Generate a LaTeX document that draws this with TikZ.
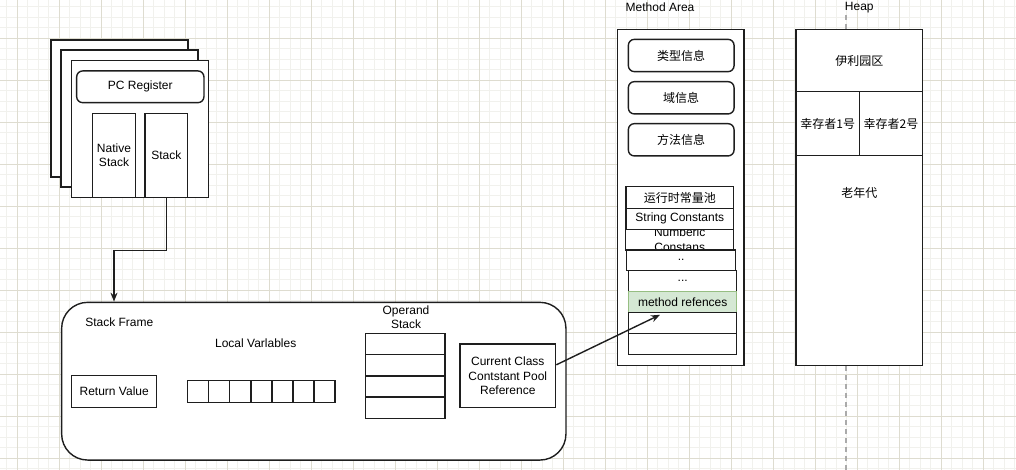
\documentclass[tikz,border=0pt]{standalone}
\usepackage{fontspec}
\setmainfont{Liberation Sans}
\newfontfamily\cjk{Noto Sans CJK SC}
\usetikzlibrary{arrows.meta}
\definecolor{minorgrid}{RGB}{241,241,237}
\definecolor{majorgrid}{RGB}{222,220,208}
\definecolor{ln}{RGB}{30,30,30}
\definecolor{gfill}{RGB}{213,232,212}
\definecolor{gline}{RGB}{150,190,130}
\definecolor{dashgray}{RGB}{170,170,170}
\begin{document}
\begin{tikzpicture}[x=1pt,y=-1pt,
  every node/.style={font=\fontsize{12}{14.5}\selectfont, text=black},
  box/.style={draw=ln, line width=1.4pt, fill=white, inner sep=0pt, align=center},
  rbox/.style={box, rounded corners=6pt},
  greenbox/.style={box, draw=gline, line width=1pt, fill=gfill},
  arr/.style={draw=ln, line width=1.4pt, -{Stealth[length=9pt,width=7pt]}},
  lbl/.style={inner sep=0pt, align=center},
  minorline/.style={draw=minorgrid, line width=0.8pt},
  majorline/.style={draw=majorgrid, line width=0.9pt}
]
\useasboundingbox (0,0) rectangle (1016,470);
\fill[white] (0,0) rectangle (1016,470);
% grid
\foreach \i in {0,...,96} \draw[minorline] ({6.8+10.5*\i},0) -- ({6.8+10.5*\i},470);
\foreach \i in {0,...,44} \draw[minorline] (0,{6.5+10.5*\i}) -- (1016,{6.5+10.5*\i});
\foreach \i in {0,...,23} \draw[majorline] ({17.3+42*\i},0) -- ({17.3+42*\i},470);
\foreach \i in {0,...,10} \draw[majorline] (0,{38+42*\i}) -- (1016,{38+42*\i});

% thread stacks
\node[box, minimum width=137pt, minimum height=137pt] (back) at (119.5,108.5) {};
\node[box, minimum width=137pt, minimum height=137pt] (mid) at (129.5,118.5) {};
\node[box, minimum width=137pt, minimum height=137pt] (front) at (140,129) {};
\node[rbox, minimum width=127.3pt, minimum height=31.7pt] (pc) at (140.3,86.8) {PC Register};
\node[box, minimum width=43.4pt, minimum height=84pt] (native) at (114,155.3) {Native\\Stack};
\node[box, minimum width=42.7pt, minimum height=84pt] (stack) at (166.3,155.3) {Stack};

% stack frame
\node[box, rounded corners=26pt, minimum width=504.3pt, minimum height=157.7pt] (sf) at (313.8,381.2) {};
\node[lbl] (sflabel) at (119.3,322.3) {Stack Frame};
\node[lbl] (lvlabel) at (255.7,343.3) {Local Varlables};
\node[box, minimum width=85pt, minimum height=32pt] (ret) at (114.2,391.7) {Return Value};
\foreach \i in {0,...,6}
  \node[box, minimum width=21.04pt, minimum height=21.6pt] (lv\i) at ({187.7+21.04*(\i+0.5)},391.5) {};
\node[lbl] (oplabel) at (406,317.3) {Operand\\Stack};
\foreach \i in {0,...,3}
  \node[box, minimum width=79.3pt, minimum height=21.25pt] (os\i) at (405.4,{333.3+21.25*(\i+0.5)}) {};
\node[box, minimum width=95.7pt, minimum height=63.7pt] (ccp) at (507.8,375.8) {Current Class\\Contstant Pool\\Reference};

% method area
\node[lbl] (malabel) at (660,7.3) {Method Area};
\node[box, minimum width=126.3pt, minimum height=336.4pt] (ma) at (680.8,197.5) {};
\node[rbox, minimum width=105.7pt, minimum height=32.3pt] (type) at (681.2,55.5) {\cjk 类型信息};
\node[rbox, minimum width=105.7pt, minimum height=32.3pt] (field) at (681.2,97.8) {\cjk 域信息};
\node[rbox, minimum width=105.7pt, minimum height=32.3pt] (method) at (681.2,139.8) {\cjk 方法信息};
\node[box, minimum width=108pt, minimum height=20.7pt,
      label={[lbl]center:{Numberic\\Constans}}] (num) at (679.7,239.7) {};
\node[box, minimum width=107.7pt, minimum height=21.6pt] (rcp) at (679.8,197.5) {\cjk 运行时常量池};
\node[box, minimum width=107.7pt, minimum height=21pt] (str) at (679.8,218.8) {String Constants};
\node[box, minimum width=109pt, minimum height=20.7pt] (dd) at (681.2,260.3) {..};
\node[box, minimum width=108pt, minimum height=21pt] (ddd) at (682.7,281.2) {...};
\node[greenbox, minimum width=108pt, minimum height=20.6pt] (mref) at (682.7,302) {method refences};
\node[box, minimum width=108pt, minimum height=21pt] (e1) at (682.7,322.8) {};
\node[box, minimum width=108pt, minimum height=21pt] (e2) at (682.7,343.8) {};

% heap
\node[lbl] (heaplabel) at (859.3,7.3) {Heap};
\coordinate (dtop) at (846,15);
\coordinate (dbot) at (846,470);
\draw[dashgray, line width=1.2pt, dash pattern=on 5pt off 4pt] (dtop) -- (dbot);
\node[box, minimum width=126.7pt, minimum height=336.4pt] (heap) at (859.3,197.5) {};
\node[box, minimum width=126.7pt, minimum height=62.4pt] (eden) at (859.3,60.5) {\cjk 伊利园区};
\node[box, minimum width=63.4pt, minimum height=63.6pt] (s1) at (827.7,123.5) {\cjk 幸存者1号};
\node[box, minimum width=63.4pt, minimum height=63.6pt] (s2) at (891,123.5) {\cjk 幸存者2号};
\node[box, minimum width=126.7pt, minimum height=210.4pt,
      label={[lbl, anchor=north, yshift=-33pt]north:{\cjk 老年代}}] (old) at (859.3,260.5) {};

% connectors
\draw[arr] (stack.south) -- ++(0,52.7) -| (sf.north -| native.south);
\coordinate (mrtip) at ([xshift=-22.7pt, yshift=-2pt]mref.south);
\draw[arr] ([yshift=11pt]ccp.east) -- (mrtip);
\end{tikzpicture}
\end{document}
